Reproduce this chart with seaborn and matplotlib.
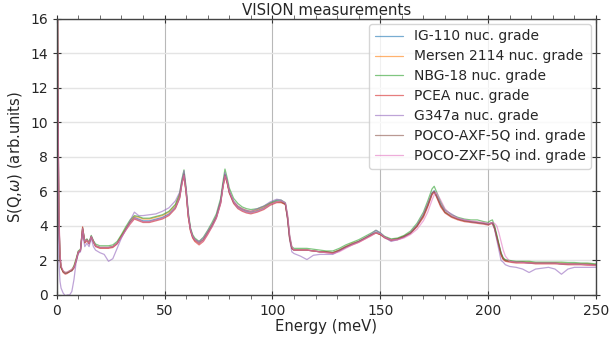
import numpy as np
import pandas as pd
import matplotlib
matplotlib.use("Agg")
import matplotlib.pyplot as plt
import seaborn as sns
from matplotlib.ticker import MultipleLocator

energy = [0, 0.5, 1, 1.5, 2, 3, 4, 5, 6, 7,
          8, 9, 10, 11, 12, 13, 14, 15, 16, 17,
          18, 20, 22, 24, 26, 28, 30, 32, 34, 36,
          38, 40, 43, 46, 49, 52, 55, 57, 58, 59,
          60, 61, 62, 63, 64, 66, 68, 70, 72, 74,
          76, 77, 78, 79, 80, 82, 84, 86, 88, 90,
          93, 96, 99, 102, 104, 106, 107, 108, 109, 110,
          113, 116, 119, 122, 125, 128, 131, 134, 137, 140,
          143, 146, 148, 150, 152, 155, 158, 161, 164, 167,
          170, 172, 174, 175, 176, 178, 180, 183, 186, 189,
          192, 195, 198, 200, 201, 202, 203, 204, 205, 206,
          207, 208, 210, 213, 216, 219, 222, 225, 228, 231,
          234, 237, 240, 243, 246, 250]

ig110 = [30, 12, 4.5, 2.2, 1.6, 1.35, 1.25, 1.3, 1.35, 1.4,
         1.6, 2.0, 2.5, 2.6, 3.85, 3.1, 3.2, 3.0, 3.4, 3.1,
         2.85, 2.75, 2.75, 2.75, 2.8, 3.0, 3.4, 3.8, 4.2, 4.5,
         4.4, 4.3, 4.3, 4.4, 4.5, 4.7, 5.1, 5.7, 6.5, 7.0,
         6.0, 4.6, 3.8, 3.4, 3.2, 3.0, 3.2, 3.6, 4.0, 4.5,
         5.4, 6.3, 7.0, 6.6, 6.0, 5.4, 5.1, 4.95, 4.85, 4.8,
         4.9, 5.05, 5.3, 5.45, 5.45, 5.3, 4.5, 3.3, 2.7, 2.6,
         2.6, 2.6, 2.55, 2.5, 2.5, 2.45, 2.6, 2.8, 2.95, 3.1,
         3.3, 3.5, 3.65, 3.55, 3.35, 3.2, 3.25, 3.4, 3.6, 4.0,
         4.6, 5.2, 5.9, 6.05, 5.8, 5.2, 4.8, 4.55, 4.4, 4.3,
         4.25, 4.2, 4.15, 4.1, 4.15, 4.2, 3.9, 3.4, 2.9, 2.4,
         2.1, 2.0, 1.95, 1.9, 1.9, 1.85, 1.85, 1.85, 1.85, 1.85,
         1.8, 1.8, 1.8, 1.8, 1.78, 1.75]

mersen = [28, 11, 4.2, 2.1, 1.6, 1.35, 1.3, 1.3, 1.4, 1.45,
          1.65, 2.05, 2.5, 2.6, 3.8, 3.05, 3.2, 3.0, 3.35, 3.1,
          2.85, 2.75, 2.75, 2.75, 2.8, 3.0, 3.45, 3.85, 4.25, 4.55,
          4.5, 4.4, 4.4, 4.5, 4.6, 4.8, 5.2, 5.8, 6.5, 6.9,
          5.9, 4.5, 3.75, 3.35, 3.15, 3.0, 3.2, 3.6, 4.05, 4.55,
          5.4, 6.2, 6.9, 6.5, 5.95, 5.4, 5.15, 5.0, 4.9, 4.85,
          4.95, 5.1, 5.3, 5.4, 5.4, 5.25, 4.4, 3.2, 2.7, 2.6,
          2.6, 2.6, 2.55, 2.5, 2.5, 2.45, 2.6, 2.8, 3.0, 3.1,
          3.3, 3.5, 3.6, 3.5, 3.35, 3.2, 3.25, 3.4, 3.6, 4.0,
          4.6, 5.2, 5.85, 6.0, 5.75, 5.2, 4.8, 4.55, 4.4, 4.3,
          4.25, 4.2, 4.15, 4.1, 4.15, 4.15, 3.85, 3.35, 2.85, 2.35,
          2.1, 2.0, 1.95, 1.9, 1.9, 1.9, 1.85, 1.85, 1.85, 1.85,
          1.85, 1.8, 1.8, 1.8, 1.8, 1.75]

nbg18 = [29, 11.5, 4.4, 2.2, 1.6, 1.35, 1.3, 1.3, 1.4, 1.45,
         1.7, 2.1, 2.55, 2.65, 3.9, 3.15, 3.25, 3.05, 3.45, 3.15,
         2.95, 2.85, 2.85, 2.85, 2.9, 3.1, 3.5, 3.95, 4.35, 4.6,
         4.55, 4.45, 4.45, 4.55, 4.65, 4.85, 5.25, 5.9, 6.7, 7.25,
         6.2, 4.8, 3.9, 3.5, 3.3, 3.1, 3.35, 3.75, 4.2, 4.7,
         5.6, 6.5, 7.3, 6.8, 6.2, 5.6, 5.3, 5.1, 5.0, 4.95,
         5.0, 5.15, 5.35, 5.5, 5.5, 5.35, 4.6, 3.4, 2.8, 2.7,
         2.7, 2.7, 2.65, 2.6, 2.55, 2.55, 2.7, 2.9, 3.05, 3.2,
         3.4, 3.6, 3.75, 3.6, 3.4, 3.25, 3.3, 3.45, 3.7, 4.15,
         4.8, 5.45, 6.15, 6.3, 6.0, 5.4, 4.95, 4.65, 4.5, 4.4,
         4.35, 4.35, 4.25, 4.2, 4.3, 4.35, 4.0, 3.5, 2.95, 2.45,
         2.15, 2.05, 2.0, 1.95, 1.95, 1.95, 1.9, 1.9, 1.9, 1.9,
         1.9, 1.88, 1.88, 1.85, 1.85, 1.8]

pcea = [31, 12.5, 4.8, 2.3, 1.6, 1.3, 1.2, 1.25, 1.35, 1.4,
        1.55, 1.95, 2.45, 2.55, 3.95, 3.0, 3.15, 2.95, 3.35, 3.05,
        2.8, 2.7, 2.7, 2.7, 2.75, 2.95, 3.35, 3.75, 4.1, 4.4,
        4.3, 4.2, 4.2, 4.3, 4.4, 4.6, 5.0, 5.6, 6.4, 6.9,
        5.9, 4.5, 3.7, 3.3, 3.1, 2.9, 3.1, 3.5, 3.95, 4.45,
        5.3, 6.2, 6.9, 6.5, 5.9, 5.3, 5.0, 4.85, 4.75, 4.7,
        4.8, 4.95, 5.2, 5.35, 5.35, 5.25, 4.5, 3.3, 2.7, 2.6,
        2.6, 2.6, 2.55, 2.5, 2.45, 2.4, 2.55, 2.75, 2.9, 3.05,
        3.25, 3.45, 3.6, 3.5, 3.3, 3.15, 3.2, 3.35, 3.55, 3.95,
        4.5, 5.1, 5.8, 5.95, 5.7, 5.1, 4.75, 4.5, 4.35, 4.25,
        4.2, 4.15, 4.1, 4.05, 4.1, 4.15, 3.85, 3.3, 2.8, 2.3,
        2.05, 1.95, 1.9, 1.85, 1.85, 1.85, 1.8, 1.8, 1.8, 1.8,
        1.78, 1.75, 1.75, 1.75, 1.72, 1.7]

g347a = [25, 8, 2.0, 0.8, 0.4, 0.1, -0.05, 0.0, 0.0, 0.2,
         0.9, 1.9, 2.4, 2.5, 3.6, 2.8, 3.0, 2.8, 3.3, 2.8,
         2.6, 2.45, 2.35, 1.95, 2.1, 2.7, 3.3, 3.8, 4.3, 4.8,
         4.6, 4.6, 4.65, 4.7, 4.85, 5.05, 5.45, 5.95, 6.6, 7.2,
         6.1, 4.7, 3.8, 3.4, 3.2, 3.1, 3.3, 3.7, 4.1, 4.6,
         5.5, 6.3, 7.1, 6.6, 6.0, 5.45, 5.15, 5.0, 4.9, 4.85,
         5.0, 5.15, 5.4, 5.55, 5.5, 5.3, 4.4, 3.2, 2.5, 2.4,
         2.25, 2.05, 2.3, 2.35, 2.35, 2.35, 2.55, 2.75, 2.95, 3.1,
         3.3, 3.55, 3.75, 3.6, 3.35, 3.1, 3.2, 3.35, 3.6, 4.05,
         4.7, 5.3, 5.9, 6.0, 5.8, 5.3, 4.9, 4.7, 4.45, 4.35,
         4.25, 4.2, 4.15, 4.1, 4.15, 4.15, 3.8, 3.2, 2.6, 2.0,
         1.9, 1.75, 1.65, 1.6, 1.5, 1.3, 1.5, 1.55, 1.6, 1.5,
         1.2, 1.5, 1.6, 1.6, 1.6, 1.6]

poco_axf = [30, 12, 4.5, 2.2, 1.6, 1.35, 1.25, 1.3, 1.35, 1.45,
            1.6, 2.0, 2.5, 2.6, 3.8, 3.05, 3.2, 3.0, 3.4, 3.1,
            2.85, 2.75, 2.75, 2.75, 2.8, 3.0, 3.4, 3.8, 4.2, 4.45,
            4.35, 4.25, 4.25, 4.35, 4.45, 4.65, 5.05, 5.65, 6.45, 7.0,
            6.0, 4.6, 3.8, 3.4, 3.2, 3.0, 3.2, 3.6, 4.0, 4.5,
            5.35, 6.25, 6.95, 6.55, 5.95, 5.35, 5.05, 4.9, 4.8, 4.75,
            4.85, 5.0, 5.25, 5.4, 5.4, 5.25, 4.5, 3.3, 2.7, 2.6,
            2.6, 2.6, 2.55, 2.5, 2.5, 2.45, 2.6, 2.8, 2.95, 3.1,
            3.3, 3.5, 3.6, 3.5, 3.35, 3.2, 3.25, 3.4, 3.6, 4.0,
            4.6, 5.2, 5.9, 6.0, 5.75, 5.2, 4.8, 4.55, 4.4, 4.3,
            4.25, 4.2, 4.15, 4.1, 4.15, 4.2, 3.9, 3.4, 2.9, 2.4,
            2.1, 2.0, 1.95, 1.9, 1.9, 1.85, 1.85, 1.85, 1.85, 1.85,
            1.8, 1.8, 1.8, 1.78, 1.78, 1.75]

poco_zxf = [32, 13, 5.0, 2.4, 1.7, 1.4, 1.3, 1.35, 1.4, 1.5,
            1.6, 2.0, 2.5, 2.6, 3.85, 3.1, 3.2, 3.0, 3.4, 3.1,
            2.85, 2.75, 2.75, 2.75, 2.8, 3.0, 3.35, 3.75, 4.15, 4.45,
            4.35, 4.25, 4.25, 4.35, 4.45, 4.65, 5.05, 5.65, 6.4, 6.95,
            6.0, 4.6, 3.8, 3.4, 3.2, 3.0, 3.15, 3.55, 3.95, 4.45,
            5.3, 6.2, 6.9, 6.6, 6.0, 5.4, 5.05, 4.9, 4.8, 4.75,
            4.85, 5.0, 5.25, 5.4, 5.45, 5.35, 4.7, 3.5, 2.8, 2.6,
            2.6, 2.6, 2.55, 2.5, 2.45, 2.4, 2.5, 2.7, 2.9, 3.05,
            3.25, 3.45, 3.6, 3.55, 3.35, 3.2, 3.2, 3.3, 3.5, 3.8,
            4.3, 4.8, 5.5, 5.8, 5.95, 5.5, 5.0, 4.6, 4.45, 4.35,
            4.3, 4.25, 4.2, 4.15, 4.15, 4.2, 4.15, 4.0, 3.6, 3.1,
            2.6, 2.25, 1.95, 1.9, 1.88, 1.85, 1.85, 1.85, 1.85, 1.85,
            1.8, 1.8, 1.78, 1.78, 1.75, 1.72]

labels = ["IG-110 nuc. grade", "Mersen 2114 nuc. grade", "NBG-18 nuc. grade",
          "PCEA nuc. grade", "G347a nuc. grade", "POCO-AXF-5Q ind. grade",
          "POCO-ZXF-5Q ind. grade"]
series = [ig110, mersen, nbg18, pcea, g347a, poco_axf, poco_zxf]

df = pd.concat([pd.DataFrame({"Energy": energy, "S": s, "sample": lab})
                for lab, s in zip(labels, series)], ignore_index=True)

sns.set_style("ticks")
plt.rcParams["font.family"] = ["DejaVu Sans"]

fig, ax = plt.subplots(figsize=(6.1, 3.39), dpi=100)
fig.subplots_adjust(left=0.093, right=0.977, bottom=0.13, top=0.944)

ax.grid(axis="x", color="#b8b8b8", linewidth=0.8)
ax.grid(axis="y", color="#e4e4e4", linewidth=1.0)
ax.set_axisbelow(True)

sns.lineplot(data=df, x="Energy", y="S", hue="sample", hue_order=labels,
             palette="tab10", estimator=None, sort=False, linewidth=0.9,
             alpha=0.6, ax=ax)

ax.set_xlim(0, 250)
ax.set_ylim(0, 16)
ax.xaxis.set_major_locator(MultipleLocator(50))
ax.xaxis.set_minor_locator(MultipleLocator(10))
ax.yaxis.set_major_locator(MultipleLocator(2))
ax.tick_params(which="major", top=True, right=True, direction="inout", length=6,
               labelsize=10, color="#333333")
ax.tick_params(which="minor", top=True, right=True, direction="out", length=3,
               color="#555555")
for sp in ax.spines.values():
    sp.set_color("#444444")
    sp.set_linewidth(1.0)

ax.set_xlabel("Energy (meV)", fontsize=10.6, labelpad=1)
ax.set_ylabel(r"S(Q,$\omega$) (arb.units)", fontsize=10.6)
ax.set_title("VISION measurements", fontsize=10.8, pad=3)
ax.legend(title=None, loc="upper right", fontsize=10, handlelength=2.0,
          labelspacing=0.43, borderaxespad=0.35)

fig.savefig("out.png", dpi=100)
